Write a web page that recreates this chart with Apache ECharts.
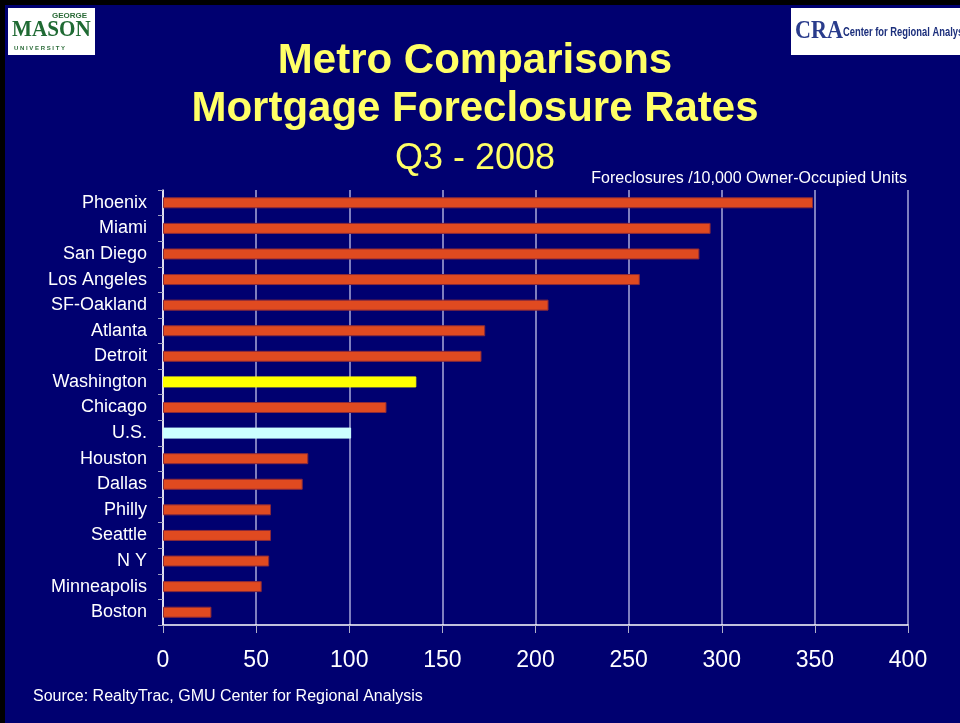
<!DOCTYPE html>
<html>
<head>
<meta charset="utf-8">
<script src="https://cdn.jsdelivr.net/npm/echarts@6/dist/echarts.min.js"></script>
<style>
  html, body { margin: 0; padding: 0; background: #000070; }
  #chart { width: 960px; height: 723px; }
</style>
</head>
<body>
<div id="chart"></div>
<script>
const cities = ['Phoenix', 'Miami', 'San Diego', 'Los Angeles', 'SF-Oakland', 'Atlanta', 'Detroit',
  'Washington', 'Chicago', 'U.S.', 'Houston', 'Dallas', 'Philly', 'Seattle', 'N Y', 'Minneapolis', 'Boston']
const rates = [349, 294, 288, 256, 207, 173, 171, 136, 120, 101, 78, 75, 58, 58, 57, 53, 26]
const xTicks = [0, 50, 100, 150, 200, 250, 300, 350, 400]

// highlighted bars
const highlight = {
  'Washington': '#ffff00',
  'U.S.': '#ccffff',
}

const font = 'Liberation Sans, Arial, sans-serif'
const chart = echarts.init(document.getElementById('chart'))

// title lines, centred on the slide
function titleLine(text, y, size, weight) {
  return {
    type: 'text', x: 475, y: y,
    style: {
      text: text, fill: '#ffff66', fontSize: size, fontWeight: weight,
      fontFamily: font, align: 'center', verticalAlign: 'top',
    },
  }
}

chart.setOption({
  backgroundColor: '#000070',
  animation: false,
  title: [
    {
      text: 'Foreclosures /10,000 Owner-Occupied Units',
      right: 48,
      top: 166,
      textStyle: { color: '#ffffff', fontSize: 16, fontWeight: 'normal', fontFamily: font },
    },
    {
      text: 'Source: RealtyTrac, GMU Center for Regional Analysis',
      left: 28,
      top: 684,
      textStyle: { color: '#ffffff', fontSize: 16, fontWeight: 'normal', fontFamily: font },
    },
  ],
  graphic: [
    // slide frame edges
    { type: 'rect', shape: { x: 0, y: 0, width: 960, height: 5 }, style: { fill: '#000000' } },
    { type: 'rect', shape: { x: 0, y: 0, width: 5, height: 723 }, style: { fill: '#000000' } },
    titleLine('Metro Comparisons', 40, 42, 'bold'),
    titleLine('Mortgage Foreclosure Rates', 88, 42, 'bold'),
    titleLine('Q3 - 2008', 141, 36, 'normal'),
    // GMU logo
    { type: 'rect', shape: { x: 8, y: 8, width: 87, height: 47 }, style: { fill: '#ffffff' } },
    { type: 'text', x: 52, y: 12, style: { text: 'GEORGE', fill: '#2b6b38', fontSize: 8, fontWeight: 'bold', fontFamily: font } },
    { type: 'text', x: 12, y: 19, scaleX: 0.92, style: { text: 'MASON', fill: '#1f6a33', fontSize: 23, fontWeight: 'bold', fontFamily: 'Liberation Serif, serif' } },
    { type: 'text', x: 14, y: 45, style: { text: 'U N I V E R S I T Y', fill: '#2b6b38', fontSize: 6, fontWeight: 'bold', fontFamily: font } },
    // CRA logo
    { type: 'rect', shape: { x: 791, y: 8, width: 169, height: 47 }, style: { fill: '#ffffff' } },
    { type: 'text', x: 795, y: 18, scaleX: 0.85, style: { text: 'CRA', fill: '#2a3c8c', fontSize: 26, fontWeight: 'bold', fontFamily: 'Liberation Serif, serif' } },
    { type: 'text', x: 843, y: 27, scaleX: 0.78, style: { text: 'Center for Regional Analys', fill: '#1c2f7c', fontSize: 12, fontWeight: 'bold', fontFamily: font } },
  ],
  grid: {
    left: 163,
    right: 52,
    top: 190,
    bottom: 98,
  },
  xAxis: {
    type: 'value',
    min: 0,
    max: 400,
    interval: 50,
    axisLine: { show: true, lineStyle: { color: '#ffffff', width: 1.5 } },
    axisTick: { show: true, length: 8, lineStyle: { color: '#b0b0c8' } },
    axisLabel: {
      color: '#ffffff', fontSize: 23, fontFamily: font, margin: 24,
      formatter: v => (xTicks.includes(v) ? String(v) : ''),
    },
    splitLine: { show: true, lineStyle: { color: '#a8a8d8', width: 1.5 } },
  },
  yAxis: {
    type: 'category',
    inverse: true,
    data: cities,
    axisLine: { show: true, lineStyle: { color: '#ffffff', width: 1.5 } },
    axisTick: { show: true, length: 5, alignWithLabel: false, lineStyle: { color: '#a0a0c0' } },
    axisLabel: { color: '#ffffff', fontSize: 18, fontFamily: font, margin: 16 },
    splitLine: { show: false },
  },
  series: [{
    type: 'bar',
    barWidth: 11,
    data: rates.map((v, i) => ({
      value: v,
      itemStyle: {
        color: highlight[cities[i]] || '#e04a20',
        borderColor: highlight[cities[i]] ? highlight[cities[i]] : '#8a2a3a',
        borderWidth: 1,
      },
    })),
  }],
})
</script>
</body>
</html>
